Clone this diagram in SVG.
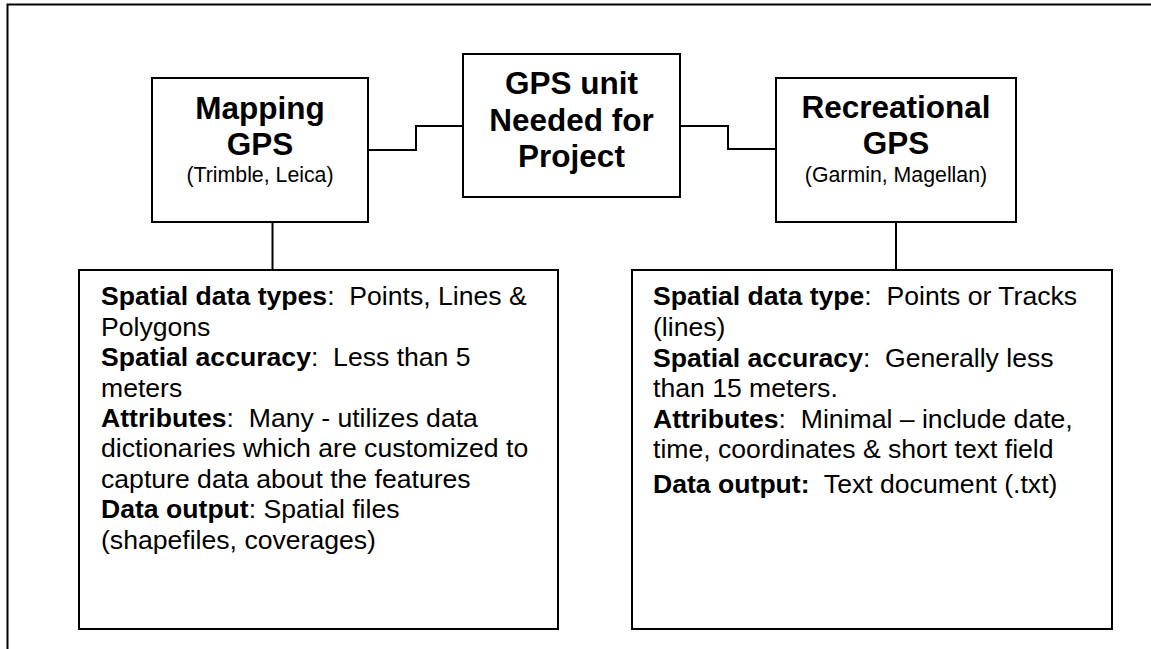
<svg xmlns="http://www.w3.org/2000/svg" width="1151" height="649" viewBox="0 0 1151 649">
  <style>
    .box { fill: #ffffff; stroke: #000000; stroke-width: 2; }
    .wire { fill: none; stroke: #000000; stroke-width: 2; }
    .frame { fill: none; stroke: #000000; stroke-width: 2; }
    text { font-family: "Liberation Sans", Arial, sans-serif; fill: #000000; }
    .head { font-size: 31.5px; font-weight: bold; text-anchor: middle; }
    .sub { font-size: 21.3px; text-anchor: middle; }
    .body { font-size: 26.6px; white-space: pre; }
    .b { font-weight: bold; }
  </style>

  <!-- page frame (top and left edges) -->
  <path class="frame" d="M7.5,649 V4.5 H1151"/>

  <!-- connectors -->
  <g id="connectors">
    <path class="wire" d="M368,150 H416 V126 H463"/>
    <path class="wire" d="M680,126 H728 V149 H776"/>
    <path class="wire" d="M272.5,222 V270"/>
    <path class="wire" d="M896,222 V270"/>
  </g>

  <g id="gps-unit">
    <rect class="box" x="463" y="54" width="217" height="143"/>
    <text class="head" x="571.5" y="94">GPS unit</text>
    <text class="head" x="571.5" y="130.5">Needed for</text>
    <text class="head" x="571.5" y="167">Project</text>
  </g>

  <g id="mapping-gps">
    <rect class="box" x="152" y="78" width="216" height="144"/>
    <text class="head" x="260" y="119">Mapping</text>
    <text class="head" x="260" y="155">GPS</text>
    <text class="sub" x="260" y="182">(Trimble, Leica)</text>
  </g>

  <g id="recreational-gps">
    <rect class="box" x="776" y="78" width="240" height="144"/>
    <text class="head" x="896" y="118">Recreational</text>
    <text class="head" x="896" y="154">GPS</text>
    <text class="sub" x="896" y="182">(Garmin, Magellan)</text>
  </g>

  <g id="mapping-details">
    <rect class="box" x="79" y="270" width="479" height="359"/>
    <text class="body" x="101" y="305"><tspan class="b">Spatial data types</tspan>:  Points, Lines &amp;</text>
    <text class="body" x="101" y="335.5">Polygons</text>
    <text class="body" x="101" y="366"><tspan class="b">Spatial accuracy</tspan>:  Less than 5</text>
    <text class="body" x="101" y="396.5">meters</text>
    <text class="body" x="101" y="427"><tspan class="b">Attributes</tspan>:  Many - utilizes data</text>
    <text class="body" x="101" y="457">dictionaries which are customized to</text>
    <text class="body" x="101" y="488">capture data about the features</text>
    <text class="body" x="101" y="518"><tspan class="b">Data output</tspan>: Spatial files</text>
    <text class="body" x="101" y="548.5">(shapefiles, coverages)</text>
  </g>

  <g id="recreational-details">
    <rect class="box" x="632" y="270" width="480" height="359"/>
    <text class="body" x="653" y="305"><tspan class="b">Spatial data type</tspan>:  Points or Tracks</text>
    <text class="body" x="653" y="335.5">(lines)</text>
    <text class="body" x="653" y="366.5"><tspan class="b">Spatial accuracy</tspan>:  Generally less</text>
    <text class="body" x="653" y="397">than 15 meters.</text>
    <text class="body" x="653" y="428"><tspan class="b">Attributes</tspan>:  Minimal – include date,</text>
    <text class="body" x="653" y="458">time, coordinates &amp; short text field</text>
    <text class="body" x="653" y="493"><tspan class="b">Data output:</tspan>  Text document (.txt)</text>
  </g>
</svg>
